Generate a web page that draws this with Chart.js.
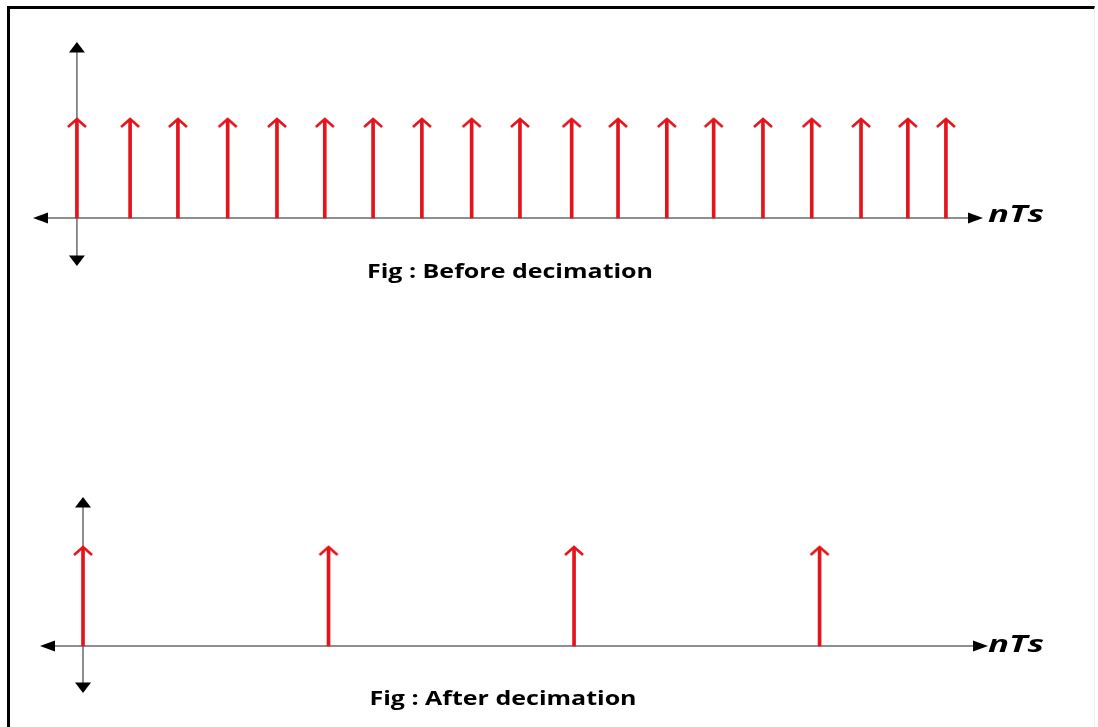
<!DOCTYPE html>
<html>
<head>
<meta charset="utf-8">
<script src="https://cdn.jsdelivr.net/npm/chart.js@4/dist/chart.umd.min.js"></script>
<style>
    html, body { margin: 0; padding: 0; background: #fff; }
    body { width: 1098px; height: 727px; position: relative; overflow: hidden; }
    .frame {
        position: absolute; left: 7px; top: 6px; width: 1084px; height: 760px;
        border-left: 3px solid #000; border-top: 3px solid #000; border-right: 1px solid #eee;
    }
    canvas { position: absolute; left: 0; top: 0; }
    .lbl {
        position: absolute; white-space: nowrap; color: #000;
        font-family: "Open Sans", sans-serif; line-height: 1;
    }
    .nts { font-size: 24px; font-weight: bold; font-style: italic; transform-origin: left top; transform: scaleX(1.45); }
    .cap { font-size: 20px; font-weight: bold; transform: translateX(-50%) scaleX(1.25); }
</style>
</head>
<body>
<div class="frame"></div>
<canvas id="topChart" width="1098" height="727"></canvas>
<canvas id="bottomChart" width="1098" height="727"></canvas>
<div class="lbl nts" style="left:988px; top:201px;">nTs</div>
<div class="lbl nts" style="left:988px; top:631px;">nTs</div>
<div class="lbl cap" style="left:510px; top:261px;">Fig : Before decimation</div>
<div class="lbl cap" style="left:503px; top:688px;">Fig : After decimation</div>
<script>
(() => {
    // samples before decimation (in units of Ts)
    const topSamples = [0, 1.09, 2.07, 3.09, 4.10, 5.08, 6.07, 7.07, 8.09, 9.08,
        10.14, 11.09, 12.09, 13.05, 14.06, 15.06, 16.07, 17.03, 17.81];
    const topAmplitude = [1, 1, 1, 1, 1, 1, 1, 1, 1, 1, 1, 1, 1, 1, 1, 1, 1, 1, 1];

    // samples kept after decimation
    const bottomSamples = [0, 5, 10, 15];
    const bottomAmplitude = [1, 1, 1, 1];

    const red = '#e3141b';

    // open arrow head, tip at the centre of the image
    const head = document.createElement('canvas');
    head.width = 24;
    head.height = 24;
    const hc = head.getContext('2d');
    hc.strokeStyle = red;
    hc.lineWidth = 2.6;
    hc.beginPath();
    hc.moveTo(3, 19);
    hc.lineTo(12, 11);
    hc.lineTo(21, 19);
    hc.stroke();

    function tri(ctx, x, y, dir) {
        const L = 15, W = 8;
        ctx.beginPath();
        if (dir === 'up') { ctx.moveTo(x, y); ctx.lineTo(x - W, y + L * 0.7); ctx.lineTo(x + W, y + L * 0.7); }
        if (dir === 'down') { ctx.moveTo(x, y); ctx.lineTo(x - W, y - L * 0.7); ctx.lineTo(x + W, y - L * 0.7); }
        if (dir === 'left') { ctx.moveTo(x, y); ctx.lineTo(x + L, y - 5.5); ctx.lineTo(x + L, y + 5.5); }
        if (dir === 'right') { ctx.moveTo(x, y); ctx.lineTo(x - L, y - 5.5); ctx.lineTo(x - L, y + 5.5); }
        ctx.closePath();
        ctx.fill();
    }

    const arrowAxes = {
        id: 'arrowAxes',
        beforeDatasetsDraw(chart) {
            const { ctx, chartArea: a, scales: { x, y } } = chart;
            const x0 = x.getPixelForValue(0);
            const y0 = y.getPixelForValue(0);
            ctx.save();
            ctx.strokeStyle = '#6a6a6a';
            ctx.lineWidth = 1.5;
            ctx.beginPath();
            ctx.moveTo(a.left + 8, y0);
            ctx.lineTo(a.right - 8, y0);
            ctx.moveTo(x0, a.top + 8);
            ctx.lineTo(x0, a.bottom - 8);
            ctx.stroke();
            ctx.fillStyle = '#000';
            tri(ctx, a.left, y0, 'left');
            tri(ctx, a.right, y0, 'right');
            tri(ctx, x0, a.top, 'up');
            tri(ctx, x0, a.bottom, 'down');
            ctx.restore();
        }
    };

    function makeChart(id, xs, ys, xr, yr, pad) {
        const pts = xs.map((v, i) => ({ x: v, y: ys[i] }));
        new Chart(document.getElementById(id), {
            type: 'bar',
            data: {
                datasets: [{
                    type: 'scatter',
                    data: pts,
                    pointStyle: head,
                    showLine: false
                }, {
                    type: 'bar',
                    data: pts,
                    backgroundColor: red,
                    barThickness: 3,
                    grouped: false
                }]
            },
            options: {
                responsive: false,
                animation: false,
                devicePixelRatio: 1,
                layout: { padding: pad },
                plugins: { legend: { display: false }, tooltip: { enabled: false } },
                scales: {
                    x: { type: 'linear', min: xr[0], max: xr[1], offset: false, display: false },
                    y: { min: yr[0], max: yr[1], display: false }
                }
            },
            plugins: [arrowAxes]
        });
    }

    makeChart('topChart', topSamples, topAmplitude, [-0.9, 18.57], [-0.49, 1.796],
        { left: 33, right: 115, top: 42, bottom: 461 });
    makeChart('bottomChart', bottomSamples, bottomAmplitude, [-0.876, 18.43], [-0.48, 1.52],
        { left: 40, right: 110, top: 497, bottom: 34 });
})();
</script>
</body>
</html>
